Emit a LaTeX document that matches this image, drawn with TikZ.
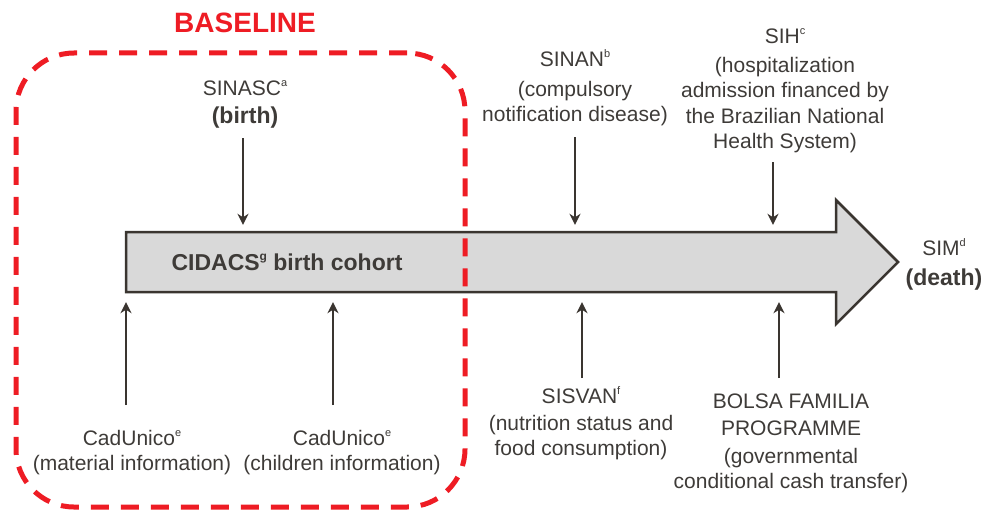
\documentclass[tikz,border=0pt]{standalone}
\usepackage{fontspec}
\setmainfont{Liberation Sans}
\usetikzlibrary{arrows.meta}
\definecolor{txt}{HTML}{3E3B38}
\definecolor{basered}{HTML}{EE1C24}
\definecolor{arrfill}{HTML}{D9D9D9}
\definecolor{arrline}{HTML}{3A3530}
\newcommand\supx[1]{\raisebox{9pt}{\fontsize{11}{11}\selectfont #1}}
\newcommand\supb[1]{\raisebox{10pt}{\fontsize{12}{12}\selectfont #1}}
\newcommand\fs{\rule{0pt}{17pt}}
\begin{document}
\begin{tikzpicture}[x=1pt,y=-1pt,
  lbl/.style={text=txt, inner sep=0pt, align=center, anchor=north, font=\fontsize{21}{25}\selectfont},
  conn/.style={draw=arrline, line width=2.4pt, -{Stealth[length=11pt,width=11pt,inset=3.5pt]}},
  bigarrow/.style={fill=arrfill, draw=arrline, line width=2.5pt, line join=miter},
  dashbox/.style={draw=basered, line width=5pt, dash pattern=on 18pt off 12pt, rounded corners=58pt, inner sep=0pt}]
\useasboundingbox (0,0) rectangle (984,511);
% big cohort arrow
\draw[bigarrow] (126,232) -- (836,232) -- (836,200) -- (898,262) -- (836,324) -- (836,292) -- (126,292) -- cycle;
\node[inner sep=0pt, minimum width=710pt, minimum height=60pt] (body) at (481,262) {};
\node[anchor=base, text=txt, font=\bfseries\fontsize{23}{25}\selectfont, inner sep=0pt] (cidacs) at (287,270) {CIDACS\supb{g} birth cohort};
% baseline box
\node[dashbox, minimum width=449pt, minimum height=454pt] (basebox) at (240.5,280) {};
\node[anchor=base, text=basered, font=\bfseries\fontsize{28}{30}\selectfont, inner sep=0pt] (baseline) at (245,33) {BASELINE};
% labels
\node[lbl] (sinasc) at (245,78) {\fs SINASC\supx{a}\\[3pt]{\bfseries\fontsize{23}{25}\selectfont (birth)}};
\node[lbl] (sinan) at (575,49.7) {\fs SINAN\supx{b}\\[5pt](compulsory\\notification disease)};
\node[lbl, font=\fontsize{21}{25.5}\selectfont] (sih) at (785,26.3) {\fs SIH\supx{c}\\[3pt](hospitalization\\admission financed by\\the Brazilian National\\Health System)};
\node[lbl] (sim) at (944,238) {\fs SIM\supx{d}\\[5pt]{\bfseries\fontsize{23}{25}\selectfont (death)}};
\node[lbl] (cad1) at (132,428) {\fs CadUnico\supx{e}\\(material information)};
\node[lbl] (cad2) at (342,428) {\fs CadUnico\supx{e}\\(children information)};
\node[lbl] (sisvan) at (581,386) {\fs SISVAN\supx{f}\\[2pt](nutrition status and\\food consumption)};
\node[lbl] (bolsa) at (791,391) {\fs BOLSA FAMILIA\\[2pt]PROGRAMME\\[3pt](governmental\\conditional cash transfer)};
% connectors
\coordinate (s1) at (243,138);
\coordinate (s2) at (575,137);
\coordinate (s3) at (773,162);
\coordinate (s4) at (126,405);
\coordinate (s5) at (333,405);
\coordinate (s6) at (582,378);
\coordinate (s7) at (779,378);
\draw[conn] (s1) -- ([yshift=7pt]s1 |- body.north);
\draw[conn] (s2) -- ([yshift=7pt]s2 |- body.north);
\draw[conn] (s3) -- ([yshift=7pt]s3 |- body.north);
\draw[conn] (s4) -- ([yshift=-10pt]s4 |- body.south);
\draw[conn] (s5) -- ([yshift=-10pt]s5 |- body.south);
\draw[conn] (s6) -- ([yshift=-10pt]s6 |- body.south);
\draw[conn] (s7) -- ([yshift=-10pt]s7 |- body.south);
\end{tikzpicture}
\end{document}
